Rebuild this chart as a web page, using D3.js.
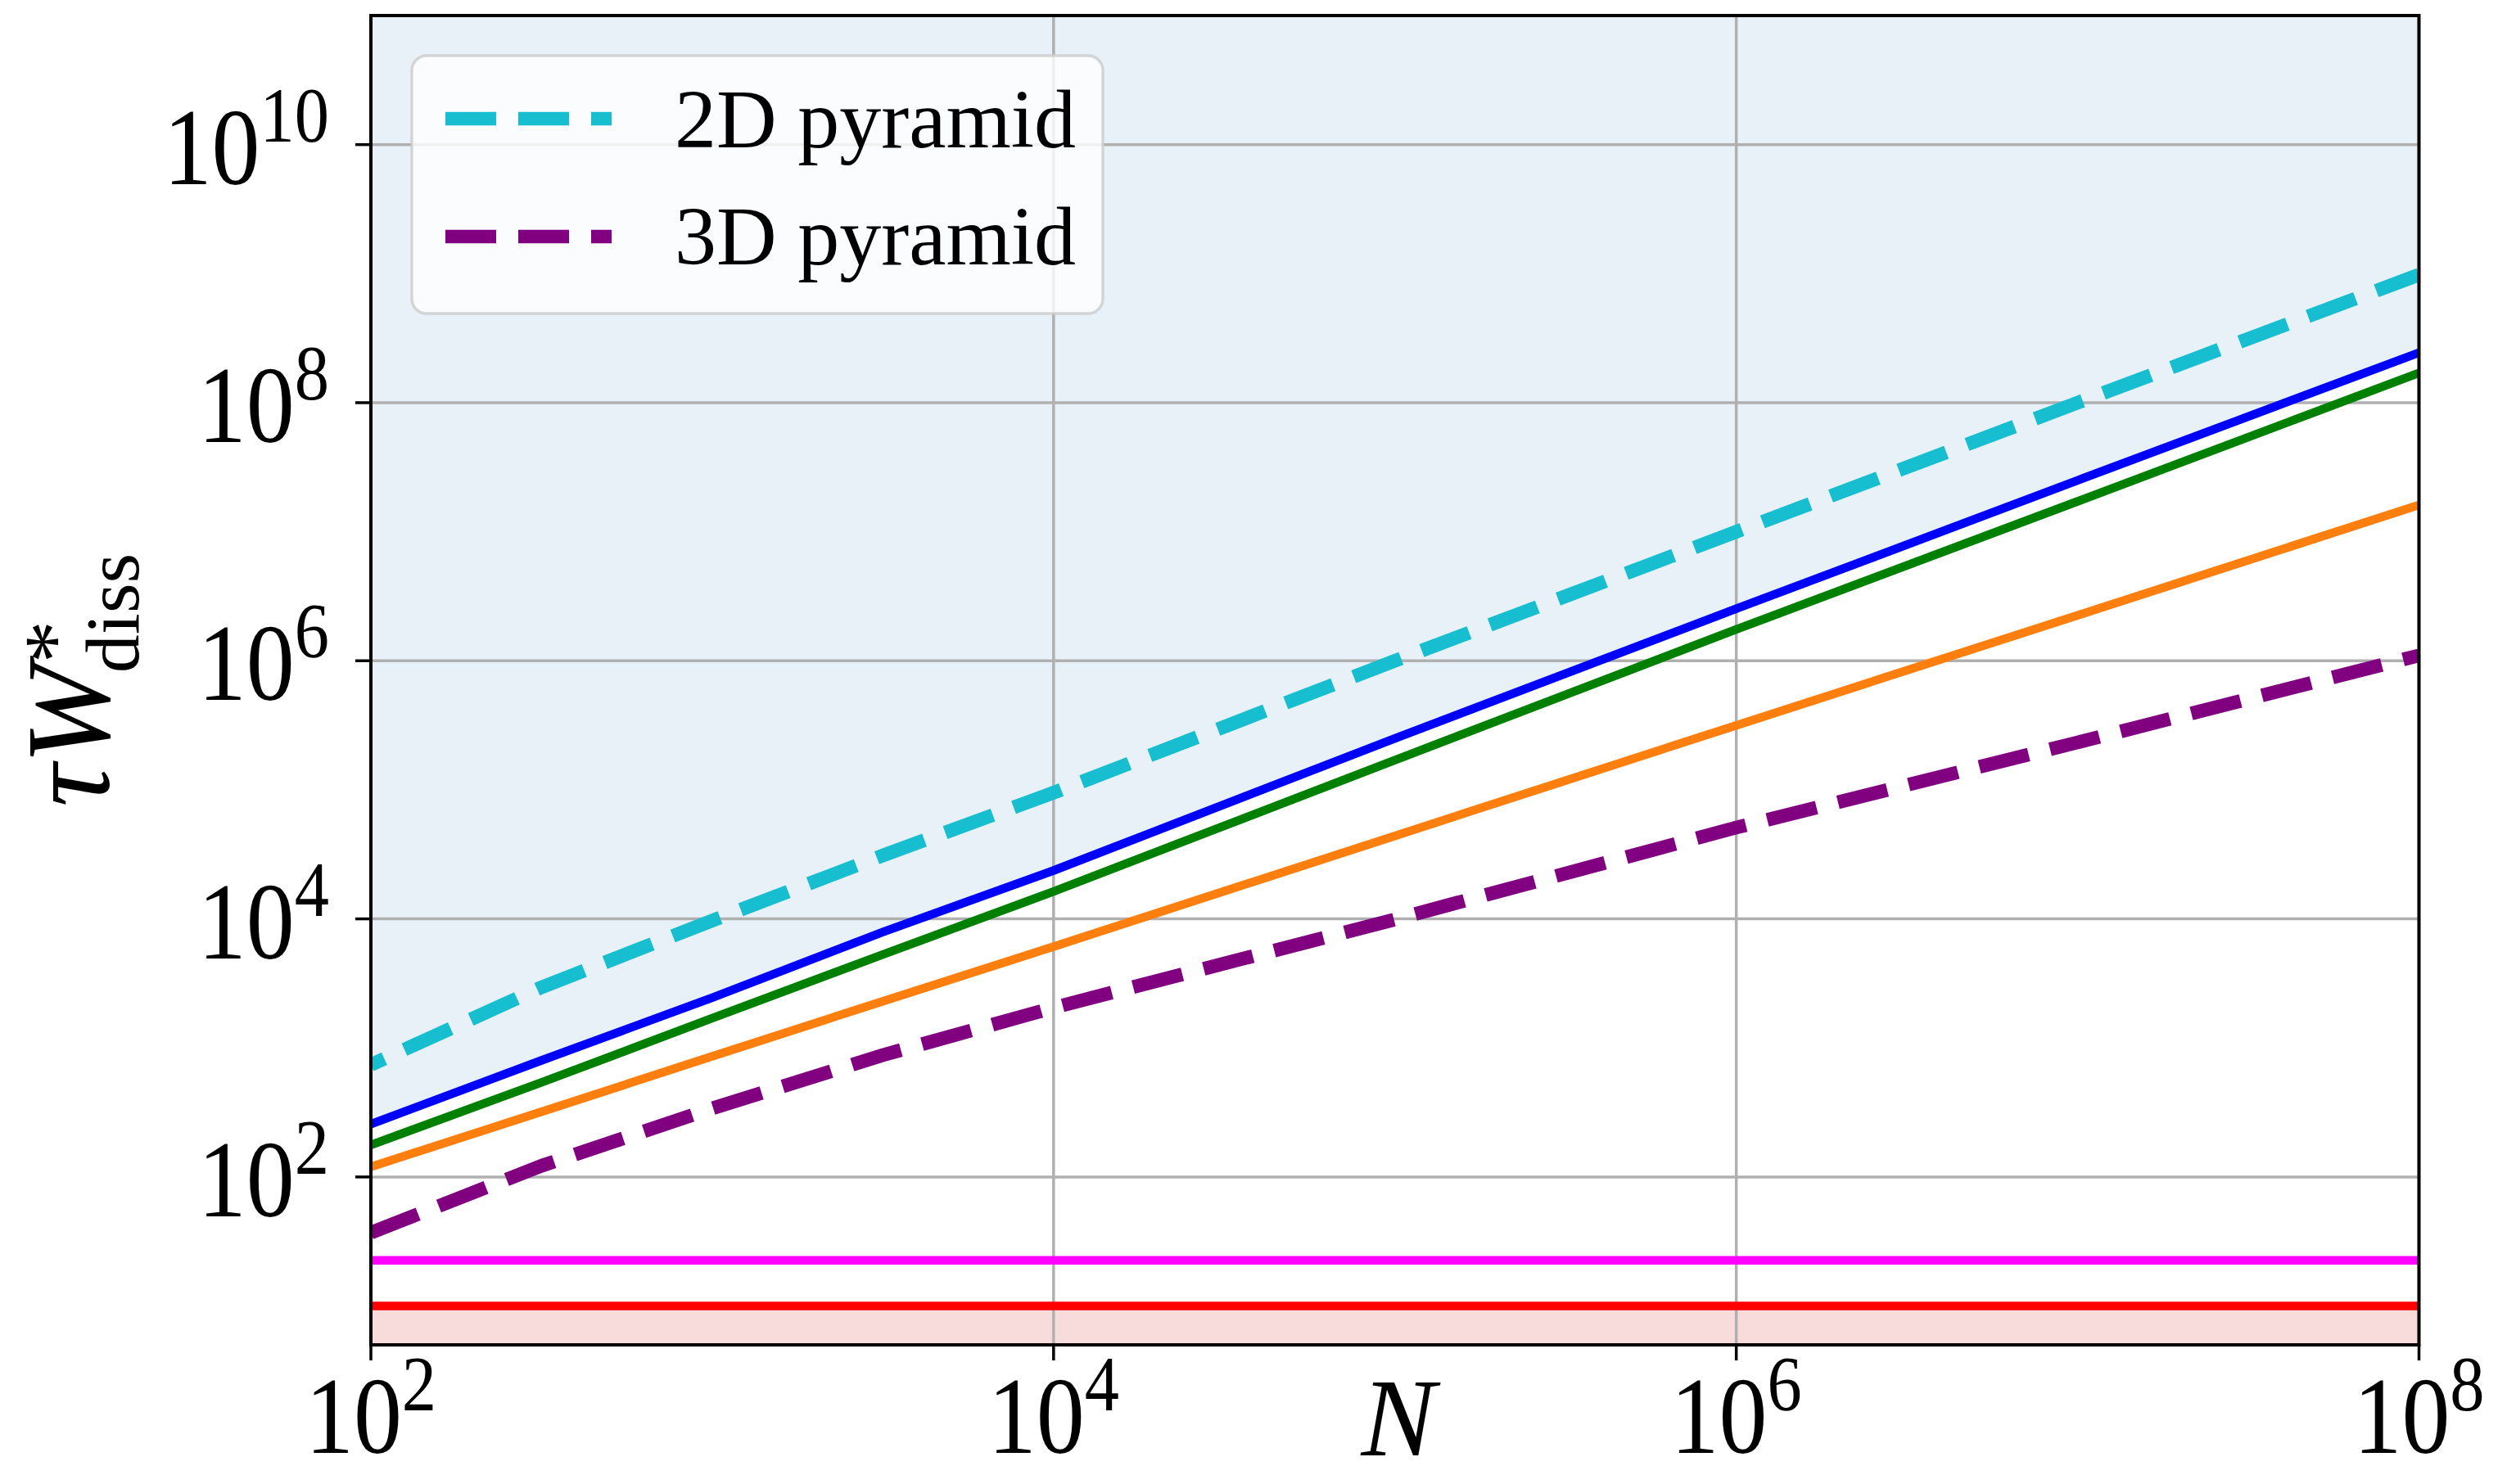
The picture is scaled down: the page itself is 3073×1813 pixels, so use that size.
<!DOCTYPE html>
<html>
<head>
<meta charset="utf-8">
<script src="https://cdn.jsdelivr.net/npm/d3@7"></script>
<style>
  html, body { margin: 0; padding: 0; background: #ffffff; }
  svg { display: block; }
</style>
</head>
<body>
<svg id="chart" width="3073" height="1813"></svg>
<script>
// ---- data: dissipated work tau*W*_diss versus system size N ----
const sizeN      = [1e2, 316, 1e3, 3162, 1e4, 1e5, 1e6, 1e7, 1e8];
const pyramid2D  = [740, 2950, 9700, 31000, 95000, 1.0e6, 1.0e7, 1.0e8, 9.8e8];
const blueWork   = [257, 800, 2450, 7900, 23700, 2.5e5, 2.53e6, 2.5e7, 2.44e8];
const greenWork  = [177, 540, 1700, 5300, 16300, 1.7e5, 1.75e6, 1.72e7, 1.7e8];
const orangeWork = [120, 320, 860, 2300, 6100, 44000, 3.16e5, 2.25e6, 1.61e7];
const pyramid3D  = [37, 122, 340, 880, 2050, 9900, 51000, 2.33e5, 1.1e6];
const levelN       = [1e2, 1e8];
const magentaLevel = [22.6, 22.6];
const redLevel     = [10, 10];

const xTickValues = [1e2, 1e4, 1e6, 1e8];
const xTickExps   = ["2", "4", "6", "8"];
const yTickValues = [1e2, 1e4, 1e6, 1e8, 1e10];
const yTickExps   = ["2", "4", "6", "8", "10"];
const legendLabels = ["2D pyramid", "3D pyramid"];

// ---- layout ----
const plot = { left: 453, right: 2954.5, top: 19, bottom: 1643 };
const serif = "'Liberation Serif', 'DejaVu Serif', serif";

const svg = d3.select("#chart");
const x = d3.scaleLog().domain([1e2, 1e8]).range([plot.left, plot.right]);
const y = d3.scaleLog().domain([5, 1e11]).range([plot.bottom, plot.top]);

svg.append("defs").append("clipPath").attr("id", "plotClip")
  .append("rect")
  .attr("x", plot.left).attr("y", plot.top)
  .attr("width", plot.right - plot.left).attr("height", plot.bottom - plot.top);

const body = svg.append("g").attr("clip-path", "url(#plotClip)");

// shaded regions
const toPts = (xs, ys) => xs.map((v, i) => [v, ys[i]]);
body.append("path")
  .datum(toPts(sizeN, blueWork))
  .attr("fill", "#1f77b4").attr("fill-opacity", 0.1)
  .attr("d", d3.area().x(d => x(d[0])).y0(plot.top - 5).y1(d => y(d[1])));
body.append("path")
  .datum(toPts(levelN, redLevel))
  .attr("fill", "#d62728").attr("fill-opacity", 0.17)
  .attr("d", d3.area().x(d => x(d[0])).y0(plot.bottom + 5).y1(d => y(d[1])));

// grid
const grid = body.append("g").attr("stroke", "#b0b0b0").attr("stroke-width", 3.5);
grid.selectAll("line.gx").data(xTickValues).join("line")
  .attr("x1", d => x(d)).attr("x2", d => x(d))
  .attr("y1", plot.top).attr("y2", plot.bottom);
grid.selectAll("line.gy").data(yTickValues).join("line")
  .attr("y1", d => y(d)).attr("y2", d => y(d))
  .attr("x1", plot.left).attr("x2", plot.right);

// curves
const line = d3.line().x(d => x(d[0])).y(d => y(d[1]));
const series = [
  { xs: levelN, ys: redLevel,     color: "#ff0000", width: 10.5 },
  { xs: levelN, ys: magentaLevel, color: "#ff00ff", width: 10.5 },
  { xs: sizeN,  ys: orangeWork,   color: "#ff7f0e", width: 10.5 },
  { xs: sizeN,  ys: greenWork,    color: "#008000", width: 10.5 },
  { xs: sizeN,  ys: blueWork,     color: "#0000ff", width: 10.5 },
  { xs: sizeN,  ys: pyramid3D,    color: "#800080", width: 16.7, dash: "62,27", offset: 0 },
  { xs: sizeN,  ys: pyramid2D,    color: "#17becf", width: 16.7, dash: "62,27", offset: 44 }
];
series.forEach(s => {
  body.append("path")
    .datum(toPts(s.xs, s.ys))
    .attr("fill", "none")
    .attr("stroke", s.color)
    .attr("stroke-width", s.width)
    .attr("stroke-linecap", "butt")
    .attr("stroke-linejoin", "round")
    .attr("stroke-dasharray", s.dash || null)
    .attr("stroke-dashoffset", s.offset || 0)
    .attr("d", line);
});

// legend
const legend = svg.append("g");
legend.append("rect")
  .attr("x", 503).attr("y", 68).attr("width", 844).attr("height", 315)
  .attr("rx", 18).attr("ry", 18)
  .attr("fill", "#ffffff").attr("fill-opacity", 0.8)
  .attr("stroke", "#cccccc").attr("stroke-opacity", 0.8).attr("stroke-width", 3.5);
const legendItems = [
  { label: legendLabels[0], color: "#17becf", cy: 145, base: 180 },
  { label: legendLabels[1], color: "#800080", cy: 289, base: 323 }
];
legendItems.forEach(it => {
  legend.append("line")
    .attr("x1", 544).attr("x2", 747).attr("y1", it.cy).attr("y2", it.cy)
    .attr("stroke", it.color).attr("stroke-width", 16.7)
    .attr("stroke-dasharray", "62,27").attr("stroke-linecap", "butt");
  legend.append("text")
    .attr("x", 824).attr("y", it.base)
    .attr("font-family", serif).attr("font-size", 102).attr("fill", "#000")
    .text(it.label);
});

// frame
svg.append("rect")
  .attr("x", plot.left).attr("y", plot.top)
  .attr("width", plot.right - plot.left).attr("height", plot.bottom - plot.top)
  .attr("fill", "none").attr("stroke", "#000").attr("stroke-width", 4);

// ticks
const ticks = svg.append("g").attr("stroke", "#000").attr("stroke-width", 3.5);
ticks.selectAll("line.tx").data(xTickValues).join("line")
  .attr("x1", d => x(d)).attr("x2", d => x(d))
  .attr("y1", plot.bottom).attr("y2", plot.bottom + 19);
ticks.selectAll("line.ty").data(yTickValues).join("line")
  .attr("y1", d => y(d)).attr("y2", d => y(d))
  .attr("x1", plot.left).attr("x2", plot.left - 19);

// power-of-ten tick labels
function powLabel(g, exp, anchor) {
  const t = g.append("text")
    .attr("font-family", serif).attr("font-size", 134)
    .attr("fill", "#000").attr("text-anchor", anchor);
  t.append("tspan").text("10");
  t.append("tspan").attr("font-size", 96).attr("dy", -52).text(exp);
}
xTickValues.forEach((v, i) => {
  const g = svg.append("g").attr("transform", `translate(${x(v)},1775) scale(0.88,1)`);
  powLabel(g, xTickExps[i], "middle");
});
yTickValues.forEach((v, i) => {
  const g = svg.append("g").attr("transform", `translate(402,${y(v) + 48}) scale(0.88,1)`);
  powLabel(g, yTickExps[i], "end");
});

// axis titles
svg.append("text")
  .attr("x", (plot.left + plot.right) / 2 + 4).attr("y", 1778)
  .attr("text-anchor", "middle")
  .attr("font-family", serif).attr("font-style", "italic").attr("font-size", 136)
  .attr("fill", "#000").text("N");

const yTitle = svg.append("g");
const mainPart = yTitle.append("text")
  .attr("font-family", serif).attr("font-style", "italic").attr("font-size", 146)
  .attr("fill", "#000").text("τW");
const w1 = mainPart.node().getComputedTextLength();
yTitle.append("text")
  .attr("x", w1 + 2).attr("y", -32)
  .attr("font-family", serif).attr("font-size", 104).attr("fill", "#000").text("*");
const sub = yTitle.append("text")
  .attr("x", w1 - 10).attr("y", 36)
  .attr("font-family", serif).attr("font-size", 94).attr("fill", "#000").text("diss");
const total = w1 - 10 + sub.node().getComputedTextLength();
yTitle.attr("transform",
  `translate(133,${(plot.top + plot.bottom) / 2}) rotate(-90) translate(${-total / 2},0)`);
</script>
</body>
</html>
